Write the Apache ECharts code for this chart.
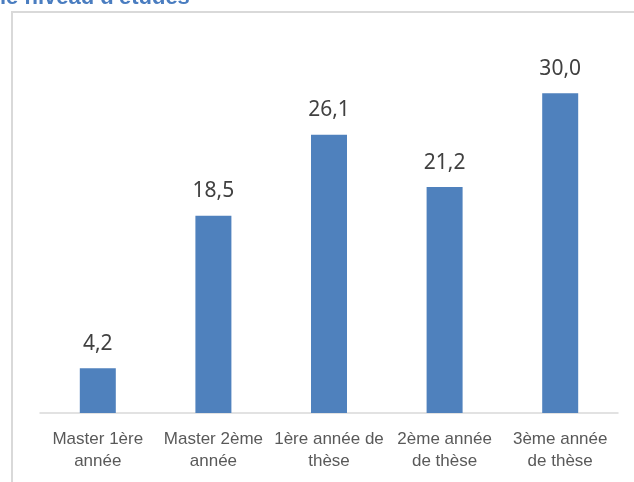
<!DOCTYPE html>
<html lang="fr">
  <head>
    <meta charset="UTF-8" />
    <title>Niveau d'études</title>
    <script src="https://cdn.jsdelivr.net/npm/echarts@6/dist/echarts.min.js"></script>
    <style>
      html, body { margin: 0; padding: 0; background: #fff; }
    </style>
  </head>
  <body>
    <div id="main" style="width: 634px; height: 482px"></div>
    <script type="text/javascript">
      // data
      const categories = [
        "Master 1ère\nannée",
        "Master 2ème\nannée",
        "1ère année de\nthèse",
        "2ème année\nde thèse",
        "3ème année\nde thèse"
      ];
      const values = [4.2, 18.5, 26.1, 21.2, 30.0];
      const titleText = "le niveau d'études";

      let myChart = echarts.init(document.getElementById('main'));

      let options = {
        animation: false,
        graphic: [
          {
            type: 'rect',
            shape: { x: 12, y: 12, width: 700, height: 600 },
            style: { fill: 'none', stroke: '#d9d9d9', lineWidth: 2 }
          },
          {
            type: 'text',
            left: 0,
            top: -13,
            style: {
              text: titleText,
              font: 'bold 22px "Liberation Sans", Arial, sans-serif',
              fill: '#4a7dc0'
            }
          }
        ],
        grid: { left: 40, right: 16, top: 40, bottom: 69 },
        xAxis: {
          type: 'category',
          data: categories,
          axisTick: { show: false },
          axisLine: { lineStyle: { color: '#d9d9d9', width: 1.5 } },
          axisLabel: {
            interval: 0,
            margin: 15,
            color: '#595959',
            fontSize: 17,
            lineHeight: 22,
            fontFamily: '"Liberation Sans", Arial, sans-serif'
          }
        },
        yAxis: {
          type: 'value',
          min: 0,
          max: 35,
          show: false,
          splitLine: { show: false }
        },
        series: [
          {
            type: 'bar',
            data: values,
            barWidth: 36,
            itemStyle: { color: '#4f81bd' },
            label: {
              show: true,
              position: 'top',
              distance: 14,
              color: '#404040',
              fontSize: 21,
              fontFamily: '"Noto Sans", sans-serif',
              formatter: (p) => p.value.toFixed(1).replace('.', ',')
            }
          }
        ]
      };

      myChart.setOption(options);
    </script>
  </body>
</html>
